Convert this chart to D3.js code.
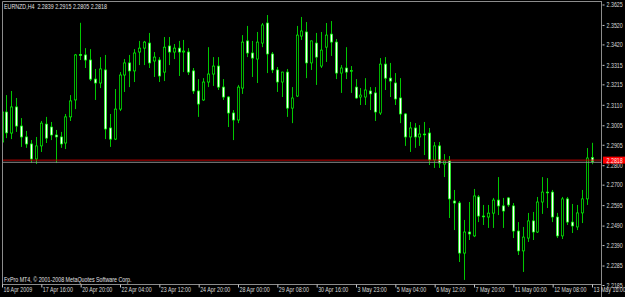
<!DOCTYPE html>
<html>
<head>
<meta charset="utf-8">
<script src="https://cdn.jsdelivr.net/npm/d3@7"></script>
<style>
  html, body { margin: 0; padding: 0; background: #000; }
  svg text { font-family: "Liberation Sans", "DejaVu Sans", sans-serif; }
</style>
</head>
<body>
<script>
// EURNZD H4 bars, 16 Apr 08:00 .. 13 May 16:00 (121 bars)
const opens = [
  2.2919, 2.3073, 2.2965, 2.3099, 2.3001, 2.2945, 2.2909, 2.2832, 2.2899, 2.3011,
  2.2996, 2.2955, 2.2945, 2.2914, 2.3048, 2.3135, 2.3368, 2.3366, 2.3340, 2.3242,
  2.3222, 2.3289, 2.2991, 2.2934, 2.3088, 2.3263, 2.3325, 2.3284, 2.3381, 2.3401,
  2.3427, 2.3335, 2.3340, 2.3278, 2.3412, 2.3381, 2.3401, 2.3381, 2.3381, 2.3284,
  2.3181, 2.3135, 2.3227, 2.3268, 2.3309, 2.3201, 2.3150, 2.3068, 2.3032, 2.3196,
  2.3438, 2.3376, 2.3345, 2.3427, 2.3530, 2.3371, 2.3289, 2.3227, 2.3278, 2.3093,
  2.3155, 2.3463, 2.3484, 2.3325, 2.3427, 2.3309, 2.3406, 2.3473, 2.3432, 2.3273,
  2.3299, 2.3284, 2.3201, 2.3150, 2.3150, 2.3181, 2.3171, 2.3068, 2.3319, 2.3247,
  2.3222, 2.3145, 2.3063, 2.2945, 2.2991, 2.2945, 2.2960, 2.2965, 2.2827, 2.2899,
  2.2806, 2.2822, 2.2616, 2.2606, 2.2349, 2.2457, 2.2437, 2.2637, 2.2539, 2.2534,
  2.2554, 2.2621, 2.2591, 2.2632, 2.2591, 2.2462, 2.2360, 2.2426, 2.2514, 2.2457,
  2.2611, 2.2662, 2.2662, 2.2534, 2.2437, 2.2627, 2.2508, 2.2483, 2.2555, 2.2627,
  2.2839
];
const highs = [
  2.3186, 2.3160, 2.3181, 2.3145, 2.3042, 2.2976, 2.2929, 2.2945, 2.3027, 2.3048,
  2.3022, 2.2981, 2.2971, 2.3063, 2.3160, 2.3371, 2.3531, 2.3401, 2.3396, 2.3294,
  2.3355, 2.3366, 2.3063, 2.3191, 2.3278, 2.3345, 2.3366, 2.3396, 2.3438, 2.3438,
  2.3479, 2.3381, 2.3355, 2.3458, 2.3458, 2.3422, 2.3438, 2.3443, 2.3401, 2.3299,
  2.3242, 2.3247, 2.3406, 2.3355, 2.3355, 2.3242, 2.3155, 2.3083, 2.3212, 2.3468,
  2.3515, 2.3438, 2.3484, 2.3530, 2.3571, 2.3381, 2.3304, 2.3280, 2.3294, 2.3201,
  2.3515, 2.3561, 2.3535, 2.3440, 2.3479, 2.3484, 2.3530, 2.3540, 2.3448, 2.3314,
  2.3406, 2.3309, 2.3242, 2.3196, 2.3247, 2.3201, 2.3201, 2.3350, 2.3355, 2.3325,
  2.3273, 2.3247, 2.3068, 2.3022, 2.3016, 2.3006, 2.3022, 2.2991, 2.2919, 2.2919,
  2.2857, 2.2847, 2.2673, 2.2616, 2.2519, 2.2611, 2.2678, 2.2647, 2.2596, 2.2596,
  2.2632, 2.2739, 2.2632, 2.2637, 2.2606, 2.2508, 2.2483, 2.2555, 2.2560, 2.2637,
  2.2739, 2.2734, 2.2673, 2.2555, 2.2637, 2.2637, 2.2601, 2.2596, 2.2673, 2.2888,
  2.2915
];
const lows = [
  2.2914, 2.2939, 2.2934, 2.2971, 2.2894, 2.2889, 2.2811, 2.2806, 2.2868, 2.2914,
  2.2929, 2.2811, 2.2889, 2.2883, 2.3027, 2.3088, 2.3340, 2.3299, 2.3232, 2.3135,
  2.3196, 2.2934, 2.2894, 2.2929, 2.3078, 2.3176, 2.3201, 2.3227, 2.3314, 2.3314,
  2.3299, 2.3253, 2.3227, 2.3232, 2.3314, 2.3345, 2.3258, 2.3278, 2.3263, 2.3166,
  2.3048, 2.3130, 2.3201, 2.3207, 2.3186, 2.3135, 2.2996, 2.2929, 2.3016, 2.3166,
  2.3355, 2.3253, 2.3222, 2.3406, 2.3273, 2.3273, 2.3176, 2.3150, 2.3048, 2.3016,
  2.3150, 2.3443, 2.3247, 2.3289, 2.3212, 2.3299, 2.3330, 2.3361, 2.3242, 2.3171,
  2.3242, 2.3171, 2.3140, 2.3109, 2.3109, 2.3083, 2.3027, 2.3058, 2.3186, 2.3150,
  2.3109, 2.3016, 2.2899, 2.2868, 2.2889, 2.2899, 2.2852, 2.2801, 2.2786, 2.2786,
  2.2739, 2.2529, 2.2467, 2.2303, 2.2211, 2.2416, 2.2431, 2.2508, 2.2493, 2.2478,
  2.2478, 2.2544, 2.2478, 2.2586, 2.2426, 2.2339, 2.2252, 2.2406, 2.2416, 2.2452,
  2.2550, 2.2580, 2.2508, 2.2426, 2.2421, 2.2493, 2.2452, 2.2467, 2.2503, 2.2596,
  2.2805
];
const closes = [
  2.3073, 2.2966, 2.3099, 2.3001, 2.2945, 2.2909, 2.2832, 2.2899, 2.3016, 2.2939,
  2.2955, 2.2945, 2.2909, 2.3048, 2.3130, 2.3366, 2.3366, 2.3340, 2.3242, 2.3222,
  2.3294, 2.2986, 2.2934, 2.3088, 2.3263, 2.3325, 2.3284, 2.3376, 2.3401, 2.3432,
  2.3325, 2.3355, 2.3258, 2.3406, 2.3381, 2.3401, 2.3381, 2.3386, 2.3278, 2.3181,
  2.3114, 2.3227, 2.3268, 2.3309, 2.3201, 2.3150, 2.3068, 2.3032, 2.3201, 2.3432,
  2.3376, 2.3350, 2.3432, 2.3520, 2.3371, 2.3289, 2.3227, 2.3278, 2.3093, 2.3145,
  2.3468, 2.3489, 2.3325, 2.3438, 2.3355, 2.3391, 2.3468, 2.3432, 2.3273, 2.3299,
  2.3278, 2.3286, 2.3145, 2.3160, 2.3186, 2.3166, 2.3073, 2.3319, 2.3247, 2.3232,
  2.3140, 2.3063, 2.2945, 2.2991, 2.2945, 2.2960, 2.2958, 2.2827, 2.2899, 2.2811,
  2.2822, 2.2627, 2.2606, 2.2349, 2.2457, 2.2447, 2.2642, 2.2539, 2.2537, 2.2554,
  2.2621, 2.2591, 2.2565, 2.2596, 2.2462, 2.2360, 2.2431, 2.2514, 2.2457, 2.2611,
  2.2662, 2.2660, 2.2534, 2.2437, 2.2627, 2.2508, 2.2488, 2.2555, 2.2627, 2.2837,
  2.2818
];

// axis labels (one time label every 8 bars)
const timeLabels = [
  "16 Apr 2009", "17 Apr 16:00", "20 Apr 20:00", "22 Apr 04:00", "23 Apr 12:00",
  "24 Apr 20:00", "28 Apr 00:00", "29 Apr 08:00", "30 Apr 16:00", "3 May 23:00",
  "5 May 04:00", "6 May 12:00", "7 May 20:00", "11 May 00:00", "12 May 08:00",
  "13 May 16:00"
];
const priceTicks = [2.3625, 2.3520, 2.3420, 2.3315, 2.3215, 2.3110, 2.3005, 2.2905,
  2.2800, 2.2700, 2.2595, 2.2490, 2.2390, 2.2285, 2.2185];

const symbol = "EURNZD,H4";
const lastBar = "2.2839 2.2915 2.2805 2.2818";
const redLevel = 2.2826;   // horizontal line
const bidLevel = 2.2815;   // bid line
const bidText = "2.2818";
const copyright = "FxPro MT4, \u00a9 2001-2008 MetaQuotes Software Corp.";

const width = 625;
const height = 297;
const frameL = 2, frameR = 601, frameT = 1, frameB = 284;
const fontSize = 7.2;
const squeeze = 0.74;   // terminal font is much narrower than Liberation Sans

const bars = opens.map((o, i) => ({ i, o, h: highs[i], l: lows[i], c: closes[i] }));

const svg = d3.select("body").append("svg")
    .attr("width", width)
    .attr("height", height)
    .attr("viewBox", [0, 0, width, height])
    .style("display", "block")
    .style("background", "#000");

const x = d3.scaleLinear()
    .domain([0, bars.length - 1])
    .range([2, 592]);

const y = d3.scaleLinear()
    .domain([2.2185, 2.3625])
    .range([285, 4.5]);

// clip the bars to the plot frame
svg.append("clipPath").attr("id", "plot")
  .append("rect")
    .attr("x", frameL).attr("y", frameT)
    .attr("width", frameR - frameL).attr("height", frameB - frameT);

const plot = svg.append("g").attr("clip-path", "url(#plot)");

// candles
const cx = d => Math.floor(x(d.i)) + 0.5;

plot.append("g")
  .selectAll("line")
  .data(bars)
  .join("line")
    .attr("x1", cx).attr("x2", cx)
    .attr("y1", d => y(d.h))
    .attr("y2", d => y(d.l))
    .attr("stroke", "#00c800")
    .attr("stroke-width", 1);

plot.append("g")
  .selectAll("rect")
  .data(bars)
  .join("rect")
    .attr("x", d => cx(d) - 1.15)
    .attr("width", 2.3)
    .attr("y", d => y(Math.max(d.o, d.c)))
    .attr("height", d => Math.max(0.8, Math.abs(y(d.o) - y(d.c))))
    .attr("fill", d => d.c > d.o ? "#000" : "#fff")
    .attr("stroke", "#00ff00")
    .attr("stroke-width", 0.7);

// level lines
plot.append("line")
    .attr("x1", frameL).attr("x2", frameR)
    .attr("y1", y(bidLevel)).attr("y2", y(bidLevel))
    .attr("stroke", "#8a8a8a").attr("stroke-width", 1);

plot.append("line")
    .attr("x1", frameL).attr("x2", frameR)
    .attr("y1", y(redLevel)).attr("y2", y(redLevel))
    .attr("stroke", "#c00000").attr("stroke-width", 1);

// frame
svg.append("path")
    .attr("d", `M${frameL + 0.5},${frameB}V${frameT + 0.5}H${frameR + 0.5}`)
    .attr("fill", "none")
    .attr("stroke", "#8c8c8c");

// price axis
svg.append("g")
    .attr("transform", `translate(${frameR + 0.5},0)`)
    .call(d3.axisRight(y).tickValues(priceTicks).tickFormat(d3.format(".4f"))
      .tickSize(3).tickPadding(2).tickSizeOuter(0))
    .call(g => g.select(".domain").attr("stroke", "#8c8c8c").attr("d", `M0,${frameT}V${height}`))
    .call(g => g.selectAll(".tick line").attr("stroke", "#c8c8c8").attr("x1", 1))
    .call(g => g.selectAll(".tick text")
        .attr("fill", "#d8d8d8")
        .attr("font-size", fontSize));

// bid price box over the axis
svg.append("rect")
    .attr("x", frameR + 2).attr("y", y(redLevel) - 3.5)
    .attr("width", width - frameR - 2).attr("height", 7)
    .attr("fill", "#ff0000");
svg.append("text")
    .attr("x", frameR + 5.5).attr("y", y(redLevel) + 2.6)
    .attr("fill", "#ffe8e8")
    .attr("font-size", fontSize)
    .text(bidText);

// time axis
svg.append("g")
    .attr("transform", `translate(0,${frameB + 0.5})`)
    .call(d3.axisBottom(x)
      .tickValues(timeLabels.map((_, k) => k * 8))
      .tickFormat((_, k) => timeLabels[k])
      .tickSize(3).tickSizeOuter(0))
    .call(g => g.select(".domain").attr("stroke", "#8c8c8c").attr("d", `M${frameL},0H${frameR + 1}`))
    .call(g => g.selectAll(".tick line").attr("stroke", "#c8c8c8"))
    .call(g => g.selectAll(".tick text")
        .attr("fill", "#d8d8d8")
        .attr("font-size", fontSize)
        .attr("text-anchor", "start")
        .attr("y", 7)
        .attr("dy", 0)
        .attr("dx", 1));

// chart captions
svg.append("text")
    .attr("x", 4).attr("y", 9)
    .attr("fill", "#e0e0e0")
    .attr("font-size", fontSize)
    .attr("xml:space", "preserve")
    .text(symbol + "  " + lastBar);

svg.append("text")
    .attr("x", 4).attr("y", 282)
    .attr("fill", "#e0e0e0")
    .attr("font-size", fontSize)
    .text(copyright);

// condense every label to the narrow look of the terminal font
svg.selectAll("text").each(function () {
  const w = this.getComputedTextLength();
  d3.select(this)
      .attr("textLength", w * squeeze)
      .attr("lengthAdjust", "spacingAndGlyphs");
});
</script>
</body>
</html>
